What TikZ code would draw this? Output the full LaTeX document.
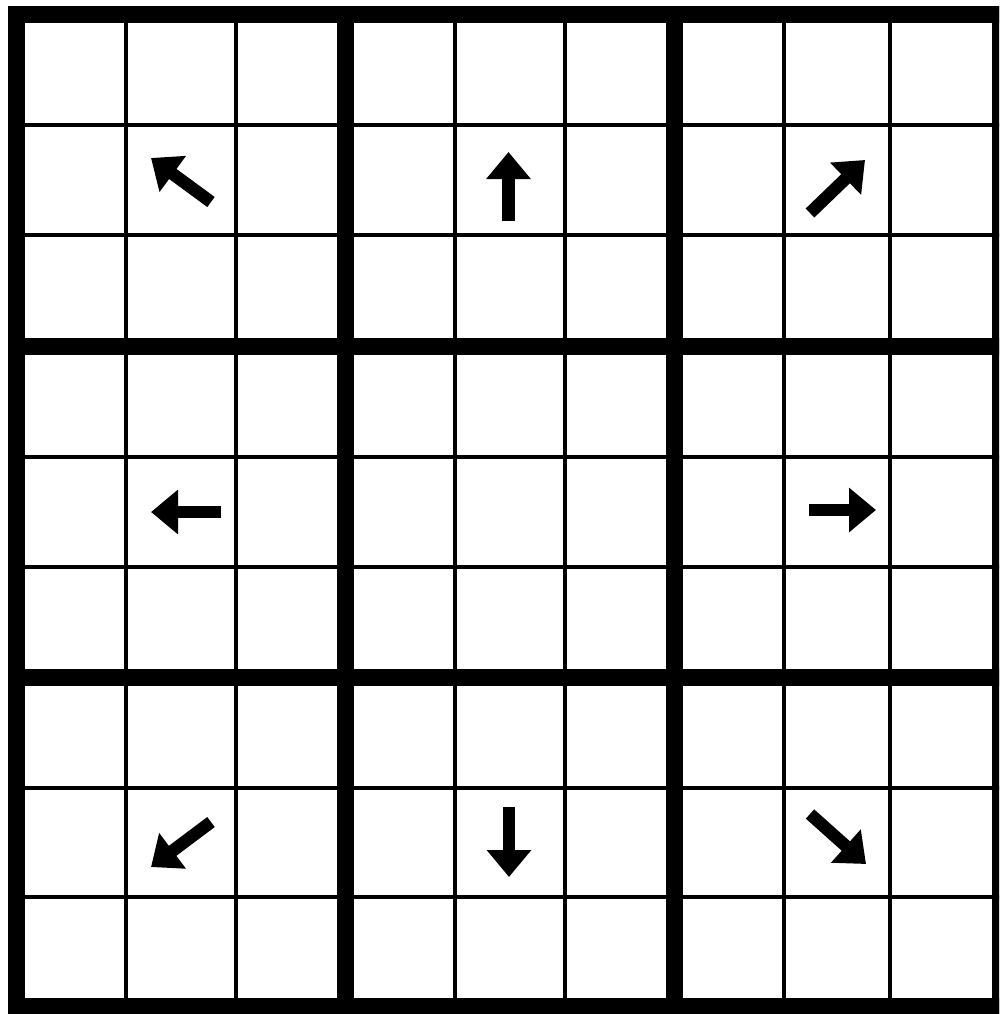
\documentclass[tikz,border=0pt]{standalone}
\usetikzlibrary{arrows.meta}
\begin{document}
\begin{tikzpicture}[x=1pt,y=-1pt,
  thinline/.style={line width=4.5pt,black},
  thickline/.style={line width=17pt,black},
  arr/.style={line width=12.5pt,black,line cap=butt,-{Triangle[width=43pt,length=27pt]}}]
\useasboundingbox (0,0) rectangle (999,1014);
\fill[white] (0,0) rectangle (999,1014);
\clip (0,0) rectangle (999,1014);
% thin lines
\foreach \x in {126,236,455,565,784,890}
  \draw[thinline] (\x,15) -- (\x,1006);
\foreach \y in {125,235,457,567,788,897}
  \draw[thinline] (16,\y) -- (1000,\y);
% thick lines
\foreach \x in {16,345,674,1000}
  \draw[thickline] (\x,6.5) -- (\x,1014.5);
\foreach \y in {15,346,677,1006}
  \draw[thickline] (7.5,\y) -- (1008.5,\y);
% arrows
\coordinate (nwT) at (211,202); \coordinate (nwH) at (151,158);
\coordinate (nT) at (508.5,221); \coordinate (nH) at (508.5,152);
\coordinate (neT) at (810,213); \coordinate (neH) at (865,160);
\coordinate (wT) at (221,512); \coordinate (wH) at (151,512);
\coordinate (eT) at (809,510); \coordinate (eH) at (876,510);
\coordinate (swT) at (211,822); \coordinate (swH) at (151,867);
\coordinate (sT) at (509,807); \coordinate (sH) at (509,877);
\coordinate (seT) at (810,814); \coordinate (seH) at (866,864);
\draw[arr] (nwT) -- (nwH);
\draw[arr] (nT) -- (nH);
\draw[arr] (neT) -- (neH);
\draw[arr] (wT) -- (wH);
\draw[arr] (eT) -- (eH);
\draw[arr] (swT) -- (swH);
\draw[arr] (sT) -- (sH);
\draw[arr] (seT) -- (seH);
\end{tikzpicture}
\end{document}
